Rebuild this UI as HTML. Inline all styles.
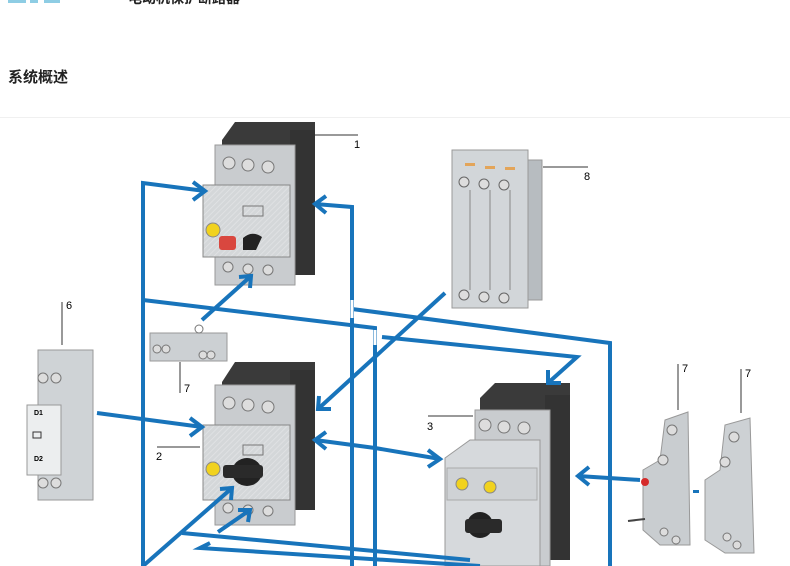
<!DOCTYPE html>
<html><head><meta charset="utf-8"><style>
body{margin:0;background:#fff;width:790px;height:566px;overflow:hidden;position:relative;font-family:"Liberation Sans","Noto Sans CJK SC",sans-serif}
.t{position:absolute;white-space:nowrap}
</style></head><body>
<div style="position:absolute;left:8px;top:0;width:18px;height:3px;background:#8ecde4"></div>
<div style="position:absolute;left:30px;top:0;width:8px;height:3px;background:#8ecde4"></div>
<div style="position:absolute;left:44px;top:0;width:16px;height:3px;background:#8ecde4"></div>
<div class="t" style="left:128px;top:-12px;font-size:14px;font-weight:bold;color:#222">电动机保护断路器</div>
<div class="t" style="left:8px;top:66px;font-size:15px;font-weight:bold;color:#222">系统概述</div>
<div style="position:absolute;left:0;top:117px;width:790px;height:1px;background:#f0f0f0"></div>
<svg width="790" height="566" style="position:absolute;left:0;top:0" font-family="Liberation Sans, sans-serif" font-size="11">
<defs>
<pattern id="h" width="4" height="4" patternUnits="userSpaceOnUse" patternTransform="rotate(45)"><rect width="4" height="4" fill="#d4d7d9"/><line x1="0" y1="0" x2="0" y2="4" stroke="#e2e4e6" stroke-width="1.5"/></pattern>
</defs>
<!-- Device 1 -->
<g>
<polygon points="222,140 235,122 315,122 315,150 222,150" fill="#3a3a3a"/>
<rect x="290" y="130" width="25" height="145" fill="#333"/>
<rect x="215" y="145" width="80" height="140" fill="#c9cccf" stroke="#999"/>
<circle cx="229" cy="163" r="6" fill="#ddd" stroke="#777"/><circle cx="248" cy="165" r="6" fill="#ddd" stroke="#777"/><circle cx="268" cy="167" r="6" fill="#ddd" stroke="#777"/>
<rect x="203" y="185" width="87" height="72" fill="url(#h)" stroke="#888"/>
<rect x="243" y="206" width="20" height="10" fill="none" stroke="#777"/>
<circle cx="213" cy="230" r="7" fill="#f1d21e" stroke="#888"/>
<rect x="219" y="236" width="17" height="14" rx="3" fill="#d9473f"/>
<path d="M243 250 L243 238 Q252 230 262 237 L256 250 Z" fill="#222"/>
<circle cx="228" cy="267" r="5" fill="#ddd" stroke="#777"/><circle cx="248" cy="269" r="5" fill="#ddd" stroke="#777"/><circle cx="268" cy="270" r="5" fill="#ddd" stroke="#777"/>
</g>
<line x1="315" y1="135" x2="358" y2="135" stroke="#333"/><text x="354" y="148">1</text>
<!-- small 7 -->
<rect x="150" y="333" width="77" height="28" fill="#ccd0d3" stroke="#999"/>
<circle cx="157" cy="349" r="4" fill="#ddd" stroke="#777"/><circle cx="166" cy="349" r="4" fill="#ddd" stroke="#777"/><circle cx="203" cy="355" r="4" fill="#ddd" stroke="#777"/><circle cx="211" cy="355" r="4" fill="#ddd" stroke="#777"/>
<circle cx="199" cy="329" r="4" fill="none" stroke="#777"/>
<line x1="180" y1="362" x2="180" y2="393" stroke="#333"/><text x="184" y="392">7</text>
<!-- Device 2 -->
<g>
<polygon points="222,382 235,362 315,362 315,390 222,390" fill="#3a3a3a"/>
<rect x="290" y="370" width="25" height="140" fill="#333"/>
<rect x="215" y="385" width="80" height="140" fill="#c9cccf" stroke="#999"/>
<circle cx="229" cy="403" r="6" fill="#ddd" stroke="#777"/><circle cx="248" cy="405" r="6" fill="#ddd" stroke="#777"/><circle cx="268" cy="407" r="6" fill="#ddd" stroke="#777"/>
<rect x="203" y="425" width="87" height="75" fill="url(#h)" stroke="#888"/>
<rect x="243" y="445" width="20" height="10" fill="none" stroke="#777"/>
<circle cx="213" cy="469" r="7" fill="#f1d21e" stroke="#888"/>
<ellipse cx="247" cy="472" rx="15" ry="14" fill="#222"/><rect x="223" y="465" width="40" height="13" rx="3" fill="#2a2a2a"/>
<circle cx="228" cy="508" r="5" fill="#ddd" stroke="#777"/><circle cx="248" cy="510" r="5" fill="#ddd" stroke="#777"/><circle cx="268" cy="511" r="5" fill="#ddd" stroke="#777"/>
</g>
<line x1="157" y1="447" x2="200" y2="447" stroke="#333"/><text x="156" y="460">2</text>
<!-- Device 8 -->
<g>
<rect x="525" y="160" width="17" height="140" fill="#b7bcc0" stroke="#999"/>
<rect x="452" y="150" width="76" height="158" fill="#d2d6d9" stroke="#999"/>
<rect x="465" y="163" width="10" height="3" fill="#e3a55a"/><rect x="485" y="166" width="10" height="3" fill="#e3a55a"/><rect x="505" y="167" width="10" height="3" fill="#e3a55a"/>
<circle cx="464" cy="182" r="5" fill="#ddd" stroke="#666"/><circle cx="484" cy="184" r="5" fill="#ddd" stroke="#666"/><circle cx="504" cy="185" r="5" fill="#ddd" stroke="#666"/>
<circle cx="464" cy="295" r="5" fill="#ddd" stroke="#666"/><circle cx="484" cy="297" r="5" fill="#ddd" stroke="#666"/><circle cx="504" cy="298" r="5" fill="#ddd" stroke="#666"/>
<line x1="470" y1="190" x2="470" y2="290" stroke="#888"/><line x1="490" y1="190" x2="490" y2="290" stroke="#888"/><line x1="510" y1="190" x2="510" y2="290" stroke="#888"/>
</g>
<line x1="543" y1="167" x2="588" y2="167" stroke="#333"/><text x="584" y="180">8</text>
<!-- Device 6 -->
<g>
<rect x="38" y="350" width="55" height="150" fill="#cfd3d6" stroke="#999"/>
<rect x="27" y="405" width="34" height="70" fill="#eceeef" stroke="#999"/>
<circle cx="43" cy="378" r="5" fill="#ddd" stroke="#777"/><circle cx="56" cy="378" r="5" fill="#ddd" stroke="#777"/>
<circle cx="43" cy="483" r="5" fill="#ddd" stroke="#777"/><circle cx="56" cy="483" r="5" fill="#ddd" stroke="#777"/>
<text x="34" y="415" font-size="7" font-weight="bold">D1</text><text x="34" y="461" font-size="7" font-weight="bold">D2</text>
<rect x="33" y="432" width="8" height="6" fill="none" stroke="#333"/>
</g>
<line x1="62" y1="302" x2="62" y2="345" stroke="#333"/><text x="66" y="309">6</text>
<!-- Device 3 -->
<g>
<polygon points="480,398 495,383 570,383 570,415 480,415" fill="#3a3a3a"/>
<rect x="545" y="395" width="25" height="165" fill="#333"/>
<rect x="475" y="410" width="75" height="156" fill="#c9cccf" stroke="#999"/>
<circle cx="485" cy="425" r="6" fill="#ddd" stroke="#777"/><circle cx="504" cy="427" r="6" fill="#ddd" stroke="#777"/><circle cx="524" cy="428" r="6" fill="#ddd" stroke="#777"/>
<polygon points="445,458 470,440 540,440 540,566 445,566" fill="#d6d9dc" stroke="#999"/>
<rect x="447" y="468" width="90" height="32" fill="#cfd2d5" stroke="#aaa"/>
<circle cx="462" cy="484" r="6" fill="#f1d21e" stroke="#888"/><circle cx="490" cy="487" r="6" fill="#f1d21e" stroke="#888"/>
<ellipse cx="480" cy="525" rx="13" ry="13" fill="#222"/><rect x="465" y="519" width="37" height="14" rx="3" fill="#2a2a2a"/>
</g>
<line x1="428" y1="416" x2="473" y2="416" stroke="#333"/><text x="427" y="430">3</text>
<!-- right 7s -->
<g>
<polygon points="643,470 660,460 665,420 688,412 690,545 660,545 643,530" fill="#c9cdd0" stroke="#999"/>
<circle cx="672" cy="430" r="5" fill="#ddd" stroke="#777"/><circle cx="663" cy="460" r="5" fill="#ddd" stroke="#777"/>
<circle cx="664" cy="532" r="4" fill="#ddd" stroke="#777"/><circle cx="676" cy="540" r="4" fill="#ddd" stroke="#777"/>
<circle cx="645" cy="482" r="4" fill="#d52b2b"/>
<line x1="628" y1="521" x2="645" y2="519" stroke="#444" stroke-width="2"/>
<polygon points="705,480 720,470 725,425 750,418 754,553 725,553 705,540" fill="#cdd1d4" stroke="#999"/>
<circle cx="734" cy="437" r="5" fill="#ddd" stroke="#777"/><circle cx="725" cy="462" r="5" fill="#ddd" stroke="#777"/>
<circle cx="727" cy="537" r="4" fill="#ddd" stroke="#777"/><circle cx="737" cy="545" r="4" fill="#ddd" stroke="#777"/>
<rect x="693" y="490" width="6" height="3" fill="#1874bb"/>
</g>
<line x1="678" y1="364" x2="678" y2="410" stroke="#333"/><text x="682" y="372">7</text>
<line x1="741" y1="369" x2="741" y2="413" stroke="#333"/><text x="745" y="377">7</text>
<!-- blue connectors -->
<g stroke="#1874bb" stroke-width="4" fill="none" stroke-linejoin="miter">
<polyline points="143,566 143,183 205,191"/><polyline points="193,182 205,191 193,200"/>
<polyline points="352,566 352,207 315,204"/><polyline points="326,196 315,204 326,213"/>
<line x1="202" y1="320" x2="251" y2="276"/><polyline points="239,277 251,276 250,288"/>
<polyline points="143,300 375,328 375,566"/>
<polyline points="352,309 610,343 610,566"/>
<polyline points="382,337 577,357 548,383"/><polyline points="548,370 548,383 561,383"/>
<line x1="445" y1="293" x2="318" y2="409"/><polyline points="319,396 318,409 331,409"/>
<line x1="97" y1="413" x2="202" y2="427"/><polyline points="190,418 202,427 190,436"/>
<polyline points="440,459 375,448 315,440"/><polyline points="326,432 315,440 326,449"/><polyline points="428,450 440,459 428,467"/>
<line x1="640" y1="480" x2="578" y2="476"/><polyline points="589,467 578,476 589,485"/>
<line x1="143" y1="566" x2="232" y2="488"/><polyline points="220,489 232,488 231,500"/>
<line x1="218" y1="532" x2="250" y2="510"/><polyline points="238,510 250,510 248,522"/>
<line x1="182" y1="533" x2="470" y2="560"/>
<polyline points="210,543 200,548 480,566"/>
</g>
<g stroke="#fff" stroke-width="3">
<line x1="352" y1="300" x2="352" y2="318"/><line x1="375" y1="330" x2="375" y2="345"/>
<line x1="400" y1="312" x2="412" y2="302"/>
</g>
</svg>
</body></html>
